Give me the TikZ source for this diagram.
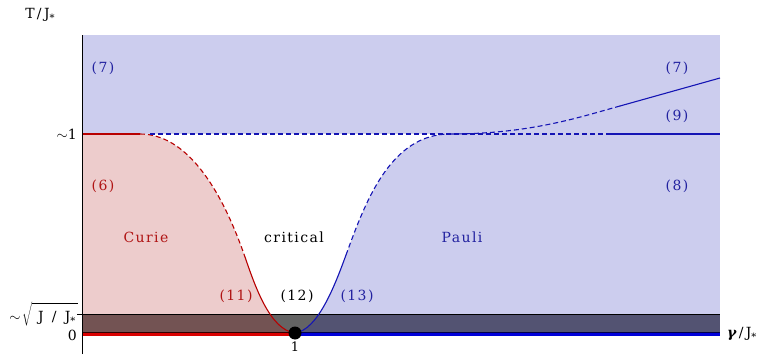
\documentclass[tikz,border=0pt]{standalone}
\usepackage{fontspec}
\setmainfont[LetterSpace=10]{DejaVu Serif}
\newcommand{\jstar}{J\raisebox{-3pt}{\fontsize{10}{10}\selectfont *}}
\begin{document}
\begin{tikzpicture}[x=1pt,y=1pt,
  lbl/.style={inner sep=0pt,font=\fontsize{14}{16}\selectfont},
  rlbl/.style={lbl,text=redtxt},
  blbl/.style={lbl,text=bluetxt},
  curve/.style={line width=1.1pt},
  dsh/.style={curve,dash pattern=on 5pt off 3pt}]
\definecolor{bluefill}{HTML}{CCCDEE}
\definecolor{redfill}{HTML}{EDCCCC}
\definecolor{redline}{HTML}{B80000}
\definecolor{blueline}{HTML}{1414B4}
\definecolor{redtxt}{HTML}{B01414}
\definecolor{bluetxt}{HTML}{2222A0}
\definecolor{banddb}{HTML}{535372}
\definecolor{banddr}{HTML}{735353}
\definecolor{banddg}{HTML}{646464}
\useasboundingbox (0,0) rectangle (763,354);
% regions
\fill[bluefill] (82,21) rectangle (720,319);
\fill[redfill] (82,21) -- (82,220) -- (140,220) .. controls (185,220) and (220,169) .. (245,97)
   .. controls (255,68) and (270,24) .. (295,21) -- cycle;
\fill[white] (140,220) .. controls (185,220) and (220,169) .. (245,97)
   .. controls (255,68) and (270,24) .. (295,21)
   .. controls (318,24) and (335,69) .. (346,99)
   .. controls (365,151) and (390,220) .. (450,220) -- cycle;
% dark band
\fill[banddb] (82,21) rectangle (720,40);
\begin{scope}
  \clip (140,220) .. controls (185,220) and (220,169) .. (245,97)
   .. controls (255,68) and (270,24) .. (295,21)
   .. controls (318,24) and (335,69) .. (346,99)
   .. controls (365,151) and (390,220) .. (450,220) -- cycle;
  \fill[banddg] (82,21) rectangle (720,40);
\end{scope}
\begin{scope}
  \clip (82,0) -- (82,220) -- (140,220) .. controls (185,220) and (220,169) .. (245,97)
   .. controls (255,68) and (270,24) .. (295,21) -- (295,0) -- cycle;
  \fill[banddr] (82,21) rectangle (720,40);
\end{scope}
\draw[line width=0.8pt] (82,40) -- (720,40);
% curves
\draw[curve,redline] (82,220) -- (140,220);
\draw[dsh,redline] (140,220) .. controls (185,220) and (220,169) .. (245,97);
\draw[curve,redline] (245,97) .. controls (255,68) and (270,24) .. (295,21);
\draw[curve,blueline] (295,21) .. controls (318,24) and (335,69) .. (346,99);
\draw[dsh,blueline] (346,99) .. controls (365,151) and (390,220) .. (450,220);
\draw[dsh,blueline] (150,220) -- (610,220);
\draw[curve,blueline] (610,220) -- (720,220);
\draw[dsh,blueline] (450,220) .. controls (530,220) and (580,237) .. (620,248);
\draw[curve,blueline] (620,248) -- (720,276);
% bottom lines
\draw[line width=4.5pt,red!85!black] (82,20) -- (295,20);
\draw[line width=1.5pt,black!80!red] (82,21.5) -- (295,21.5);
\draw[line width=4.5pt,blue!85!black] (295,20) -- (720,20);
\draw[line width=1.5pt,black!70!blue] (295,21.5) -- (720,21.5);
% axis
\draw[line width=0.9pt] (82,0) -- (82,319);
\draw[line width=0.8pt] (77,40) -- (82,40);
\fill (295,21) circle (6.5);
% labels
\node[lbl] (ty) at (40,339) {T\,/\,\jstar};
\node[blbl] (l7a) at (103,286) {(7)};
\node[blbl] (l7b) at (677,286) {(7)};
\node[blbl] (l9) at (677,238) {(9)};
\node[rlbl] (l6) at (103,168) {(6)};
\node[blbl] (l8) at (677,168) {(8)};
\node[lbl,anchor=east] (one) at (77,220) {$\sim$1};
\node[rlbl] (curie) at (146,117) {Curie};
\node[lbl] (crit) at (294,117) {critical};
\node[blbl] (pauli) at (462,117) {Pauli};
\node[rlbl] (l11) at (236,58) {(11)};
\node[lbl] (l12) at (297,58) {(12)};
\node[blbl] (l13) at (357,58) {(13)};
\node[lbl,anchor=base east] (sq) at (78,33) {$\sim\!\sqrt{\rule{0pt}{15pt}\mbox{\ J\,\ /\,\ \jstar}\,}$};
\node[lbl,anchor=east] (zero) at (77,19) {0};
\node[lbl,font=\fontsize{13}{14}\selectfont,anchor=base] (onex) at (295,3) {1};
\node[lbl,anchor=west] (gx) at (727,20) {{\bfseries\itshape γ}\,/\,\jstar};
\end{tikzpicture}
\end{document}
